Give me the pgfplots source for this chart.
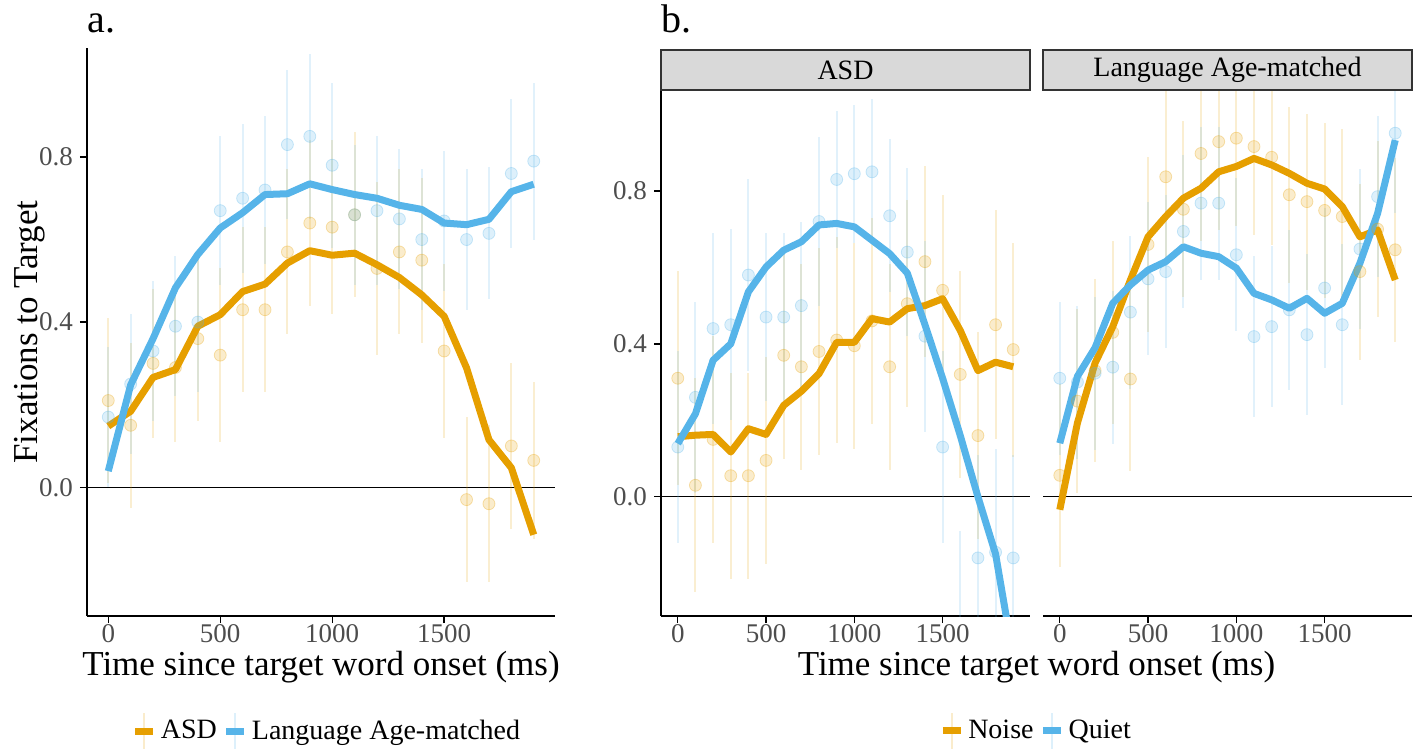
\documentclass[border=0pt]{standalone}
\usepackage{fontspec}
\setmainfont{Liberation Serif}
\usepackage{pgfplots}
\usepackage{pgfplotstable}
\pgfplotsset{compat=1.18}
\definecolor{cOr}{HTML}{E69F00}
\definecolor{cBl}{HTML}{56B4E9}
\definecolor{tickgrey}{HTML}{4D4D4D}
\definecolor{stripfill}{HTML}{D9D9D9}
\definecolor{stripline}{HTML}{333333}

% ---- panel a: points (t, value, error half-width) ----
\pgfplotstableread{
t v e
0 0.21 0.20
100 0.15 0.20
200 0.30 0.18
300 0.29 0.18
400 0.36 0.20
500 0.32 0.21
600 0.43 0.20
700 0.43 0.20
800 0.57 0.20
900 0.64 0.20
1000 0.63 0.21
1100 0.66 0.20
1200 0.53 0.21
1300 0.57 0.20
1400 0.55 0.20
1500 0.33 0.21
1600 -0.03 0.20
1700 -0.04 0.19
1800 0.10 0.20
1900 0.065 0.19
}\aASDpts
\pgfplotstableread{
t v e
0 0.17 0.17
100 0.25 0.17
200 0.33 0.17
300 0.39 0.17
400 0.40 0.17
500 0.67 0.18
600 0.70 0.18
700 0.72 0.18
800 0.83 0.18
900 0.85 0.20
1000 0.78 0.20
1100 0.66 0.17
1200 0.67 0.18
1300 0.65 0.17
1400 0.60 0.17
1500 0.645 0.17
1600 0.60 0.17
1700 0.615 0.16
1800 0.76 0.18
1900 0.79 0.19
}\aLApts
\pgfplotstableread{
t v
0 0.148
100 0.184
200 0.266
300 0.285
400 0.39
500 0.418
600 0.474
700 0.492
800 0.543
900 0.573
1000 0.562
1100 0.567
1200 0.539
1300 0.508
1400 0.466
1500 0.414
1600 0.289
1700 0.115
1800 0.047
1900 -0.115
}\aASDline
\pgfplotstableread{
t v
0 0.039
100 0.248
200 0.36
300 0.483
400 0.564
500 0.628
600 0.665
700 0.709
800 0.711
900 0.735
1000 0.721
1100 0.709
1200 0.70
1300 0.683
1400 0.673
1500 0.64
1600 0.636
1700 0.649
1800 0.716
1900 0.734
}\aLAline

% ---- panel b, ASD facet ----
\pgfplotstableread{
t v e
0 0.31 0.28
100 0.03 0.28
200 0.15 0.27
300 0.055 0.27
400 0.055 0.27
500 0.095 0.27
600 0.37 0.27
700 0.34 0.27
800 0.38 0.27
900 0.41 0.27
1000 0.395 0.27
1100 0.46 0.27
1200 0.34 0.27
1300 0.505 0.27
1400 0.615 0.25
1500 0.54 0.25
1600 0.32 0.27
1700 0.16 0.27
1800 0.45 0.30
1900 0.385 0.28
}\bASDnoisepts
\pgfplotstableread{
t v e
0 0.13 0.25
100 0.26 0.25
200 0.44 0.25
300 0.45 0.25
400 0.58 0.25
500 0.47 0.22
600 0.47 0.22
700 0.50 0.22
800 0.72 0.22
900 0.83 0.18
1000 0.845 0.18
1100 0.85 0.19
1200 0.735 0.20
1300 0.64 0.22
1400 0.42 0.25
1500 0.13 0.25
1600 -0.37 0.28
1700 -0.16 0.27
1800 -0.145 0.27
1900 -0.16 0.27
}\bASDquietpts
\pgfplotstableread{
t v
0 0.157
100 0.161
200 0.163
300 0.117
400 0.178
500 0.163
600 0.239
700 0.276
800 0.322
900 0.404
1000 0.404
1100 0.466
1200 0.457
1300 0.492
1400 0.50
1500 0.518
1600 0.435
1700 0.33
1800 0.352
1900 0.34
}\bASDnoiseline
\pgfplotstableread{
t v
0 0.139
100 0.217
200 0.357
300 0.40
400 0.536
500 0.601
600 0.645
700 0.667
800 0.711
900 0.715
1000 0.706
1100 0.671
1200 0.636
1300 0.585
1400 0.45
1500 0.31
1600 0.16
1700 0.0
1800 -0.15
1900 -0.42
}\bASDquietline

% ---- panel b, Language Age-matched facet ----
\pgfplotstableread{
t v e
0 0.056 0.24
100 0.25 0.24
200 0.33 0.24
300 0.43 0.24
400 0.308 0.24
500 0.66 0.23
600 0.837 0.23
700 0.752 0.23
800 0.898 0.23
900 0.929 0.23
1000 0.938 0.23
1100 0.916 0.23
1200 0.888 0.23
1300 0.79 0.23
1400 0.772 0.23
1500 0.749 0.23
1600 0.733 0.23
1700 0.589 0.23
1800 0.70 0.23
1900 0.646 0.24
}\bLAnoisepts
\pgfplotstableread{
t v e
0 0.31 0.20
100 0.30 0.20
200 0.323 0.20
300 0.339 0.20
400 0.483 0.20
500 0.57 0.20
600 0.589 0.20
700 0.694 0.20
800 0.768 0.20
900 0.768 0.20
1000 0.633 0.20
1100 0.419 0.21
1200 0.445 0.21
1300 0.489 0.21
1400 0.424 0.21
1500 0.546 0.21
1600 0.45 0.21
1700 0.648 0.21
1800 0.785 0.21
1900 0.951 0.21
}\bLAquietpts
\pgfplotstableread{
t v
0 -0.034
100 0.193
200 0.35
300 0.445
400 0.567
500 0.68
600 0.733
700 0.781
800 0.807
900 0.85
1000 0.864
1100 0.885
1200 0.868
1300 0.846
1400 0.82
1500 0.805
1600 0.759
1700 0.68
1800 0.698
1900 0.567
}\bLAnoiseline
\pgfplotstableread{
t v
0 0.14
100 0.315
200 0.39
300 0.506
400 0.554
500 0.593
600 0.615
700 0.654
800 0.637
900 0.628
1000 0.598
1100 0.532
1200 0.515
1300 0.493
1400 0.519
1500 0.48
1600 0.506
1700 0.611
1800 0.741
1900 0.933
}\bLAquietline

\pgfplotsset{
  facet/.style={
    scale only axis,
    anchor=south west,
    xmin=-95, xmax=1995,
    ymin=-0.312, ymax=1.064,
    xtick={0,500,1000,1500},
    xticklabels={0,500,1000,1500},
    tick align=outside,
    major tick length=3.5pt,
    tick style={black, line width=0.7pt},
    axis line style={-, black, line width=0.8pt},
    tick label style={font=\fontsize{13.5pt}{13.5pt}\selectfont, text=tickgrey},
    xticklabel style={inner sep=1pt, yshift=0.5pt},
    label style={font=\fontsize{17.5pt}{17.5pt}\selectfont},
    xlabel style={inner sep=0pt},
    legend style={draw=none, fill=none, legend columns=-1,
      font=\fontsize{14pt}{14pt}\selectfont,
      /tikz/every even column/.append style={column sep=1pt},
      /tikz/every odd column/.append style={column sep=0pt}},
    legend image code/.code={
      \draw[#1, line width=1pt, opacity=0.2] (4.5pt,-9pt) -- (4.5pt,9pt);
      \draw[#1] (0pt,0pt) -- (9pt,0pt);},
  },
  pts/.style={only marks, mark=*, mark size=3pt,
    mark options={draw=#1, fill=#1, fill opacity=0.2, draw opacity=0.3},
    error bars/y dir=both, error bars/y explicit, error bars/error mark=none,
    error bars/error bar style={#1, line width=1pt, opacity=0.18}},
  fit/.style={#1, line width=3.5pt, line join=round},
}

\begin{document}
\begin{tikzpicture}
\useasboundingbox (0pt,0pt) rectangle (709pt,-375.5pt);

% panel a
\begin{axis}[facet,
  at={(43.5pt,-308pt)}, width=234pt, height=284pt,
  axis x line*=bottom, axis y line*=left,
  ytick={0,0.4,0.8}, yticklabels={0.0,0.4,0.8},
  xlabel={Time since target word onset (ms)},
  xlabel style={at={(axis description cs:0.5,-0.090)}, anchor=center},
  ylabel={Fixations to Target},
  ylabel style={at={(axis description cs:-0.122,0.5)}, anchor=center},
  legend style={at={(axis description cs:0.515,-0.2025)}, anchor=center},
]
\addplot[black, line width=0.7pt, forget plot] coordinates {(-95,0) (1995,0)};
\addplot[forget plot, pts=cOr] table[x=t, y=v, y error=e] {\aASDpts};
\addplot[forget plot, pts=cBl] table[x=t, y=v, y error=e] {\aLApts};
\addplot[fit=cOr] table[x=t, y=v] {\aASDline};
\addlegendentry{ASD}
\addplot[fit=cBl] table[x=t, y=v] {\aLAline};
\addlegendentry{Language Age-matched}
\end{axis}

% panel b, ASD
\begin{axis}[facet, name=asd,
  at={(330.5pt,-308pt)}, width=184.5pt, height=263pt,
  axis x line*=bottom, axis y line*=left,
  ytick={0,0.4,0.8}, yticklabels={0.0,0.4,0.8},
  xlabel={Time since target word onset (ms)},
  xlabel style={at={(axis description cs:1.0176,-0.0973)}, anchor=center},
  legend style={at={(axis description cs:1.019,-0.2186)}, anchor=center},
]
\addplot[black, line width=0.7pt, forget plot] coordinates {(-95,0) (1995,0)};
\addplot[forget plot, pts=cOr] table[x=t, y=v, y error=e] {\bASDnoisepts};
\addplot[forget plot, pts=cBl] table[x=t, y=v, y error=e] {\bASDquietpts};
\addplot[fit=cOr] table[x=t, y=v] {\bASDnoiseline};
\addlegendentry{Noise}
\addplot[fit=cBl] table[x=t, y=v] {\bASDquietline};
\addlegendentry{Quiet}
\end{axis}

% panel b, Language Age-matched
\begin{axis}[facet, name=la,
  at={(521.5pt,-308pt)}, width=184.5pt, height=263pt,
  axis x line*=bottom, axis y line=none,
  ytick=\empty,
]
\addplot[black, line width=0.7pt] coordinates {(-95,0) (1995,0)};
\addplot[pts=cOr] table[x=t, y=v, y error=e] {\bLAnoisepts};
\addplot[pts=cBl] table[x=t, y=v, y error=e] {\bLAquietpts};
\addplot[fit=cOr] table[x=t, y=v] {\bLAnoiseline};
\addplot[fit=cBl] table[x=t, y=v] {\bLAquietline};
\end{axis}

% panel tags
\node[anchor=base west, inner sep=0pt, font=\fontsize{20pt}{20pt}\selectfont] at (43.5pt,-16pt) {a.};
\node[anchor=base west, inner sep=0pt, font=\fontsize{20pt}{20pt}\selectfont] at (330.5pt,-16pt) {b.};

% facet strips
\draw[fill=stripfill, draw=stripline, line width=0.7pt]
  (asd.north west) rectangle ([yshift=20pt]asd.north east);
\node[font=\fontsize{14pt}{14pt}\selectfont] at ([yshift=10pt]asd.north) {ASD};
\draw[fill=stripfill, draw=stripline, line width=0.7pt]
  (la.north west) rectangle ([yshift=20pt]la.north east);
\node[font=\fontsize{14pt}{14pt}\selectfont] at ([yshift=10pt]la.north) {Language Age-matched};
\end{tikzpicture}
\end{document}
